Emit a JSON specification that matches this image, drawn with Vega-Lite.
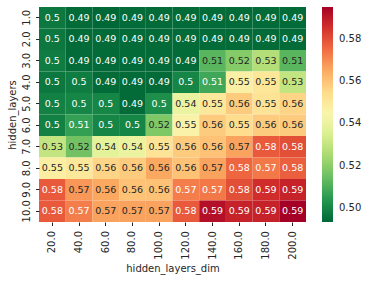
{
  "$schema": "https://vega.github.io/schema/vega-lite/v6.json",
  "autosize": {"type": "none"},
  "padding": {"left": 39, "top": 7, "right": 63, "bottom": 59},
  "width": 267,
  "height": 215,
  "config": {
    "font": "DejaVu Sans",
    "view": {"stroke": null},
    "axis": {
      "labelFont": "DejaVu Sans", "labelFontSize": 10, "labelColor": "#262626",
      "titleFont": "DejaVu Sans", "titleFontSize": 10, "titleFontWeight": "normal", "titleColor": "#262626",
      "domain": false, "tickColor": "#262626", "tickSize": 3.5, "tickWidth": 1, "grid": false
    },
    "legend": {"labelFont": "DejaVu Sans", "labelFontSize": 10, "labelColor": "#262626"}
  },
  "data": {"values": [
    {"layers":1,"dim":20,"v":0.497},{"layers":1,"dim":40,"v":0.494},{"layers":1,"dim":60,"v":0.4934},{"layers":1,"dim":80,"v":0.494},{"layers":1,"dim":100,"v":0.494},{"layers":1,"dim":120,"v":0.494},{"layers":1,"dim":140,"v":0.494},{"layers":1,"dim":160,"v":0.494},{"layers":1,"dim":180,"v":0.494},{"layers":1,"dim":200,"v":0.494},
    {"layers":2,"dim":20,"v":0.497},{"layers":2,"dim":40,"v":0.494},{"layers":2,"dim":60,"v":0.494},{"layers":2,"dim":80,"v":0.494},{"layers":2,"dim":100,"v":0.494},{"layers":2,"dim":120,"v":0.494},{"layers":2,"dim":140,"v":0.494},{"layers":2,"dim":160,"v":0.494},{"layers":2,"dim":180,"v":0.494},{"layers":2,"dim":200,"v":0.494},
    {"layers":3,"dim":20,"v":0.498},{"layers":3,"dim":40,"v":0.494},{"layers":3,"dim":60,"v":0.494},{"layers":3,"dim":80,"v":0.494},{"layers":3,"dim":100,"v":0.494},{"layers":3,"dim":120,"v":0.494},{"layers":3,"dim":140,"v":0.512},{"layers":3,"dim":160,"v":0.519},{"layers":3,"dim":180,"v":0.527},{"layers":3,"dim":200,"v":0.512},
    {"layers":4,"dim":20,"v":0.497},{"layers":4,"dim":40,"v":0.498},{"layers":4,"dim":60,"v":0.494},{"layers":4,"dim":80,"v":0.494},{"layers":4,"dim":100,"v":0.494},{"layers":4,"dim":120,"v":0.5},{"layers":4,"dim":140,"v":0.508},{"layers":4,"dim":160,"v":0.547},{"layers":4,"dim":180,"v":0.551},{"layers":4,"dim":200,"v":0.53},
    {"layers":5,"dim":20,"v":0.499},{"layers":5,"dim":40,"v":0.5},{"layers":5,"dim":60,"v":0.5},{"layers":5,"dim":80,"v":0.494},{"layers":5,"dim":100,"v":0.502},{"layers":5,"dim":120,"v":0.54},{"layers":5,"dim":140,"v":0.55},{"layers":5,"dim":160,"v":0.558},{"layers":5,"dim":180,"v":0.552},{"layers":5,"dim":200,"v":0.556},
    {"layers":6,"dim":20,"v":0.499},{"layers":6,"dim":40,"v":0.506},{"layers":6,"dim":60,"v":0.5},{"layers":6,"dim":80,"v":0.5},{"layers":6,"dim":100,"v":0.518},{"layers":6,"dim":120,"v":0.546},{"layers":6,"dim":140,"v":0.558},{"layers":6,"dim":160,"v":0.554},{"layers":6,"dim":180,"v":0.558},{"layers":6,"dim":200,"v":0.558},
    {"layers":7,"dim":20,"v":0.53},{"layers":7,"dim":40,"v":0.516},{"layers":7,"dim":60,"v":0.538},{"layers":7,"dim":80,"v":0.54},{"layers":7,"dim":100,"v":0.552},{"layers":7,"dim":120,"v":0.558},{"layers":7,"dim":140,"v":0.56},{"layers":7,"dim":160,"v":0.566},{"layers":7,"dim":180,"v":0.578},{"layers":7,"dim":200,"v":0.58},
    {"layers":8,"dim":20,"v":0.548},{"layers":8,"dim":40,"v":0.55},{"layers":8,"dim":60,"v":0.556},{"layers":8,"dim":80,"v":0.558},{"layers":8,"dim":100,"v":0.565},{"layers":8,"dim":120,"v":0.56},{"layers":8,"dim":140,"v":0.566},{"layers":8,"dim":160,"v":0.576},{"layers":8,"dim":180,"v":0.573},{"layers":8,"dim":200,"v":0.577},
    {"layers":9,"dim":20,"v":0.578},{"layers":9,"dim":40,"v":0.568},{"layers":9,"dim":60,"v":0.565},{"layers":9,"dim":80,"v":0.56},{"layers":9,"dim":100,"v":0.56},{"layers":9,"dim":120,"v":0.572},{"layers":9,"dim":140,"v":0.573},{"layers":9,"dim":160,"v":0.58},{"layers":9,"dim":180,"v":0.586},{"layers":9,"dim":200,"v":0.588},
    {"layers":10,"dim":20,"v":0.578},{"layers":10,"dim":40,"v":0.572},{"layers":10,"dim":60,"v":0.566},{"layers":10,"dim":80,"v":0.566},{"layers":10,"dim":100,"v":0.566},{"layers":10,"dim":120,"v":0.578},{"layers":10,"dim":140,"v":0.592},{"layers":10,"dim":160,"v":0.588},{"layers":10,"dim":180,"v":0.588},{"layers":10,"dim":200,"v":0.5949}
  ]},
  "encoding": {
    "x": {"field": "dim", "type": "ordinal", "scale": {"paddingInner": 0, "paddingOuter": 0},
      "axis": {"title": "hidden_layers_dim", "labelAngle": 270, "labelAlign": "right", "labelBaseline": "middle", "labelPadding": 5, "titlePadding": 4, "labelExpr": "format(datum.value, '.1f')"}},
    "y": {"field": "layers", "type": "ordinal", "scale": {"paddingInner": 0, "paddingOuter": 0},
      "axis": {"title": "hidden_layers", "labelAngle": 270, "labelAlign": "center", "labelBaseline": "bottom", "labelPadding": 4, "titlePadding": 4, "labelExpr": "format(datum.value, '.1f')"}}
  },
  "layer": [
    {"mark": {"type": "rect"},
     "encoding": {"color": {"field": "v", "type": "quantitative",
        "scale": {"scheme": "redyellowgreen", "reverse": true, "domain": [0.4934, 0.595]},
        "legend": {"title": null, "orient": "right", "offset": 16, "gradientLength": 215, "gradientThickness": 11, "gradientStrokeWidth": 0, "labelOffset": 6, "values": [0.5, 0.52, 0.54, 0.56, 0.58], "format": ".2f"}}}},
    {"mark": {"type": "text", "fontSize": 9.5, "font": "DejaVu Sans"},
     "encoding": {"text": {"field": "v", "type": "quantitative", "format": ".2"},
       "color": {"condition": {"test": "datum.v < 0.509 || datum.v > 0.5715", "value": "white"}, "value": "#262626"}}}
  ]
}
